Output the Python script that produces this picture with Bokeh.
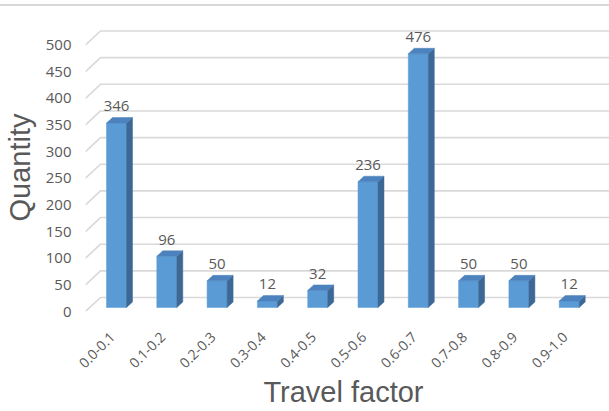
from math import pi

from bokeh.core.properties import value
from bokeh.embed import file_html
from bokeh.models import ColumnDataSource, FixedTicker, Range1d
from bokeh.plotting import figure
from bokeh.resources import INLINE

# Travel factor histogram
categories = ["0.0-0.1", "0.1-0.2", "0.2-0.3", "0.3-0.4", "0.4-0.5",
              "0.5-0.6", "0.6-0.7", "0.7-0.8", "0.8-0.9", "0.9-1.0"]
quantities = [346, 96, 50, 12, 32, 236, 476, 50, 50, 12]
y_ticks = [0, 50, 100, 150, 200, 250, 300, 350, 400, 450, 500]

W, H = 609, 411
LEFT, BOTTOM, TOP = 85, 100, 23  # frame margins in px
PX_PER_CAT = 50.3                # horizontal spacing of categories
PX_PER_UNIT = 0.533              # vertical px per quantity unit
CAT0_PX = 116 - LEFT             # centre of first category from frame left

frame_w = W - LEFT
frame_h = H - BOTTOM - TOP
x_start = -CAT0_PX / PX_PER_CAT
x_end = x_start + frame_w / PX_PER_CAT
y_end = frame_h / PX_PER_UNIT

# 3-D look: offsets expressed in data units
half_w = 10 / PX_PER_CAT        # half bar width
dx = 6 / PX_PER_CAT             # depth to the right
dy = 5.5 / PX_PER_UNIT          # depth upwards
lift = 4 / PX_PER_UNIT          # bar base above the floor front edge
wall_dx = 15 / PX_PER_CAT       # floor depth horizontally
wall_dy = 14 / PX_PER_UNIT      # floor depth vertically
label_shift = 4 / PX_PER_CAT    # category labels hang off the floor's front corner

TEXT = "#595959"
GRID = "#d9d9d9"

p = figure(width=W, height=H, output_backend="svg", toolbar_location=None,
           x_range=Range1d(x_start, x_end), y_range=Range1d(0, y_end),
           min_border_left=LEFT, min_border_bottom=BOTTOM,
           min_border_top=TOP, min_border_right=0)
p.outline_line_color = None
p.xgrid.visible = False
p.ygrid.visible = False
# thin rule along the top edge of the chart area
p.border_fill_alpha = 0
p.styles = {"background": "linear-gradient(#d9d9d9, #d9d9d9) 0 4px / 100% 2px "
                          "no-repeat, #ffffff"}

# gridlines: diagonal on the floor side, then straight along the back wall
for g in y_ticks:
    p.line([x_start, x_start + wall_dx, x_end], [g, g + wall_dy, g + wall_dy],
           line_color=GRID, line_width=1.6)

# bars: front, side and top faces
xs = list(range(len(categories)))
fronts = ColumnDataSource(dict(
    left=[i - half_w for i in xs], right=[i + half_w for i in xs],
    bottom=[lift] * len(xs), top=[lift + q for q in quantities]))
p.quad(left="left", right="right", bottom="bottom", top="top", source=fronts,
       fill_color="#5b9bd5", line_color="#5b9bd5", line_width=0.5)

side_x, side_y, top_x, top_y = [], [], [], []
for i, q in zip(xs, quantities):
    r, l, t = i + half_w, i - half_w, lift + q
    side_x.append([r, r + dx, r + dx, r])
    side_y.append([lift, lift + dy, t + dy, t])
    top_x.append([l, l + dx, r + dx, r])
    top_y.append([t, t + dy, t + dy, t])
p.patches(side_x, side_y, fill_color="#3d6896", line_color="#3d6896",
          line_width=0.5)
p.patches(top_x, top_y, fill_color="#4c82bd", line_color="#4c82bd",
          line_width=0.5)

# value labels above each bar
p.text(x=xs, y=[q + 39 for q in quantities], text=[str(q) for q in quantities],
       text_align="center", text_baseline="middle",
       text_font=value("Open Sans"), text_font_size="15px", text_color=TEXT)

# y axis
p.yaxis.ticker = FixedTicker(ticks=y_ticks)
p.yaxis.axis_line_color = None
p.yaxis.major_tick_line_color = None
p.yaxis.minor_tick_line_color = None
p.yaxis.major_tick_out = 0
p.yaxis.major_label_standoff = 14
p.yaxis.major_label_text_font = "Open Sans"
p.yaxis.major_label_text_font_size = "15px"
p.yaxis.major_label_text_color = TEXT
p.yaxis.axis_label = "Quantity"
p.yaxis.axis_label_standoff = 7
p.yaxis.axis_label_text_font = "Liberation Sans"
p.yaxis.axis_label_text_font_size = "29px"
p.yaxis.axis_label_text_font_style = "normal"
p.yaxis.axis_label_text_color = TEXT

# x axis
x_tick_pos = [i - label_shift for i in xs]
p.xaxis.ticker = FixedTicker(ticks=x_tick_pos)
p.xaxis.major_label_overrides = {t: c for t, c in zip(x_tick_pos, categories)}
p.xaxis.major_label_orientation = pi / 4
p.xaxis.axis_line_color = None
p.xaxis.major_tick_line_color = None
p.xaxis.minor_tick_line_color = None
p.xaxis.major_tick_out = 0
p.xaxis.major_label_standoff = 23
p.xaxis.major_label_text_font = "Open Sans"
p.xaxis.major_label_text_font_size = "14px"
p.xaxis.major_label_text_color = TEXT
p.xaxis.axis_label = "Travel  factor"
p.xaxis.axis_label_standoff = 0
p.xaxis.axis_label_text_font = "Liberation Sans"
p.xaxis.axis_label_text_font_size = "29px"
p.xaxis.axis_label_text_font_style = "normal"
p.xaxis.axis_label_text_color = TEXT

open("out.html", "w").write(file_html(p, INLINE))
